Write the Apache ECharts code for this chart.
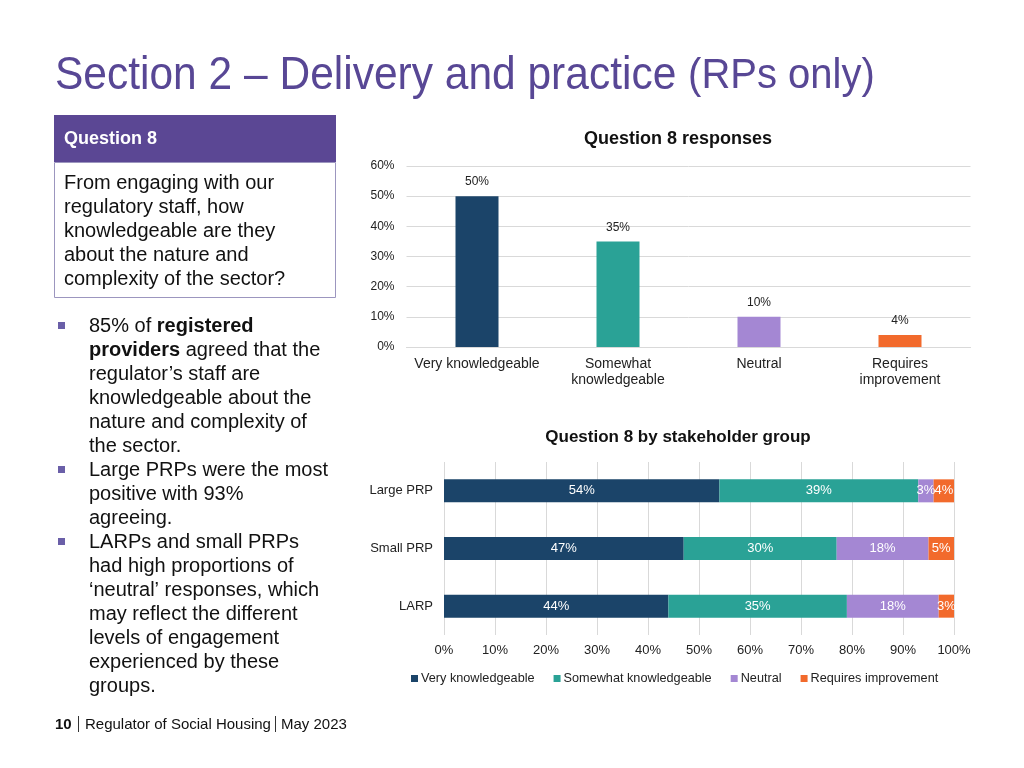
<!DOCTYPE html>
<html>
<head>
<meta charset="utf-8">
<script src="https://cdn.jsdelivr.net/npm/echarts@6/dist/echarts.min.js"></script>
<style>html,body{margin:0;padding:0;background:#fff}#c{width:1024px;height:768px}</style>
</head>
<body>
<div id="c"></div>
<script>
// ---- data ----
const responseCategories = ['Very knowledgeable', 'Somewhat\nknowledgeable', 'Neutral', 'Requires\nimprovement'];
const responseValues = [50, 35, 10, 4];
const responseTicks = [0, 10, 20, 30, 40, 50, 60];

const groupCategories = ['Large PRP', 'Small PRP', 'LARP'];
const seriesNames = ['Very knowledgeable', 'Somewhat knowledgeable', 'Neutral', 'Requires improvement'];
const veryKnowledgeable = [54, 47, 44];
const somewhatKnowledgeable = [39, 30, 35];
const neutral = [3, 18, 18];
const requiresImprovement = [4, 5, 3];
const groupTicks = [0, 10, 20, 30, 40, 50, 60, 70, 80, 90, 100];

const questionLines = ['From engaging with our', 'regulatory staff, how', 'knowledgeable are they', 'about the nature and', 'complexity of the sector?'];
const bullet1 = ['85% of {b|registered}', '{b|providers} agreed that the', 'regulator’s staff are', 'knowledgeable about the', 'nature and complexity of', 'the sector.'];
const bullet2 = ['Large PRPs were the most', 'positive with 93%', 'agreeing.'];
const bullet3 = ['LARPs and small PRPs', 'had high proportions of', '‘neutral’ responses, which', 'may reflect the different', 'levels of engagement', 'experienced by these', 'groups.'];

// ---- styling ----
const FF = '"Liberation Sans", Arial, Helvetica, sans-serif';
const colors = ['#1B4469', '#2AA296', '#A487D3', '#F26A2C'];
const purple = '#584795';

const graphics = [];
graphics.push({
  type: 'text', x: 55, y: 76, scaleY: 1.08,
  style: {
    text: '{a|Section 2 – Delivery and practice }{b|(RPs only)}',
    verticalAlign: 'middle', fill: purple, fontFamily: FF,
    rich: { a: { fontSize: 42.5, fontFamily: FF, fill: purple }, b: { fontSize: 40, fontFamily: FF, fill: purple } }
  }
});
graphics.push({ type: 'rect', shape: { x: 54, y: 115, width: 282, height: 47 }, style: { fill: '#5B4794' } });
graphics.push({ type: 'text', x: 64, y: 139, style: { text: 'Question 8', fill: '#fff', fontSize: 18, fontWeight: 'bold', fontFamily: FF, verticalAlign: 'middle' } });
graphics.push({ type: 'rect', shape: { x: 54.5, y: 162.5, width: 281, height: 135 }, style: { fill: 'none', stroke: '#9C96BF', lineWidth: 1 } });
questionLines.forEach((t, i) => {
  graphics.push({ type: 'text', x: 64, y: 183 + 24 * i, style: { text: t, fill: '#111', fontSize: 20, fontFamily: FF, verticalAlign: 'middle' } });
});
function addBullet(lines, y0) {
  graphics.push({ type: 'rect', shape: { x: 58, y: y0 - 4, width: 7, height: 7 }, style: { fill: '#6A5FA8' } });
  lines.forEach((t, i) => {
    graphics.push({ type: 'text', x: 89, y: y0 + 24 * i, style: {
      text: t, fill: '#111', fontSize: 20, fontFamily: FF, verticalAlign: 'middle',
      rich: { b: { fontWeight: 'bold', fontSize: 20, fontFamily: FF, fill: '#111' } }
    } });
  });
}
addBullet(bullet1, 326);
addBullet(bullet2, 470);
addBullet(bullet3, 542);
// footer
graphics.push({ type: 'text', x: 55, y: 725, style: { text: '10', fill: '#111', fontSize: 15, fontWeight: 'bold', fontFamily: FF, verticalAlign: 'middle' } });
graphics.push({ type: 'line', shape: { x1: 78.5, y1: 716, x2: 78.5, y2: 732 }, style: { stroke: '#333', lineWidth: 1 } });
graphics.push({ type: 'text', x: 85, y: 725, style: { text: 'Regulator of Social Housing', fill: '#111', fontSize: 15, fontFamily: FF, verticalAlign: 'middle' } });
graphics.push({ type: 'line', shape: { x1: 275.5, y1: 716, x2: 275.5, y2: 732 }, style: { stroke: '#333', lineWidth: 1 } });
graphics.push({ type: 'text', x: 281, y: 725, style: { text: 'May 2023', fill: '#111', fontSize: 15, fontFamily: FF, verticalAlign: 'middle' } });

const groupData = [veryKnowledgeable, somewhatKnowledgeable, neutral, requiresImprovement];

const option = {
  animation: false,
  textStyle: { fontFamily: FF },
  title: [
    { text: 'Question 8 responses', left: 673, top: 125, textAlign: 'center', textStyle: { fontSize: 18, fontWeight: 'bold', color: '#111', fontFamily: FF } },
    { text: 'Question 8 by stakeholder group', left: 673, top: 424, textAlign: 'center', textStyle: { fontSize: 17, fontWeight: 'bold', color: '#111', fontFamily: FF } }
  ],
  legend: {
    data: seriesNames, left: 406, top: 667, itemWidth: 7, itemHeight: 7, itemGap: 19, icon: 'rect',
    textStyle: { fontSize: 12.7, color: '#222', fontFamily: FF, padding: [0, 0, 0, -2] }
  },
  graphic: graphics,
  grid: [
    { left: 406.5, top: 166, width: 564, height: 181 },
    { left: 444, top: 462, width: 510, height: 173 }
  ],
  xAxis: [
    {
      gridIndex: 0, type: 'category', data: responseCategories,
      axisLine: { lineStyle: { color: '#D9D9D9' } }, axisTick: { show: false },
      axisLabel: { interval: 0, fontSize: 14, color: '#222', lineHeight: 16, margin: 9, fontFamily: FF }
    },
    {
      gridIndex: 1, type: 'value', min: groupTicks[0], max: groupTicks[groupTicks.length - 1], interval: 10,
      axisLine: { show: false }, axisTick: { show: false },
      splitLine: { lineStyle: { color: '#D9D9D9' } },
      axisLabel: { formatter: '{value}%', fontSize: 13, color: '#222', margin: 9, fontFamily: FF }
    }
  ],
  yAxis: [
    {
      gridIndex: 0, type: 'value', min: responseTicks[0], max: responseTicks[responseTicks.length - 1], interval: 10,
      axisLine: { show: false }, axisTick: { show: false },
      splitLine: { lineStyle: { color: '#D9D9D9' } },
      axisLabel: { formatter: '{value}%', fontSize: 12, color: '#222', margin: 12, fontFamily: FF }
    },
    {
      gridIndex: 1, type: 'category', data: groupCategories, inverse: true,
      axisLine: { show: false }, axisTick: { show: false },
      axisLabel: { fontSize: 13, color: '#222', margin: 11, fontFamily: FF }
    }
  ],
  series: [
    {
      type: 'bar', xAxisIndex: 0, yAxisIndex: 0, barWidth: 43,
      data: responseValues.map((v, i) => ({ value: v, itemStyle: { color: colors[i] } })),
      label: { show: true, position: 'top', formatter: '{c}%', fontSize: 12, color: '#222', distance: 8, fontFamily: FF }
    }
  ].concat(seriesNames.map((name, k) => ({
    name: name, type: 'bar', stack: 'g', xAxisIndex: 1, yAxisIndex: 1, barWidth: 23,
    itemStyle: { color: colors[k] },
    data: groupData[k],
    label: { show: true, position: 'inside', formatter: '{c}%', fontSize: 13, color: '#fff', fontFamily: FF }
  })))
};

const chart = echarts.init(document.getElementById('c'), null, { renderer: 'canvas' });
chart.setOption(option);
</script>
</body>
</html>
